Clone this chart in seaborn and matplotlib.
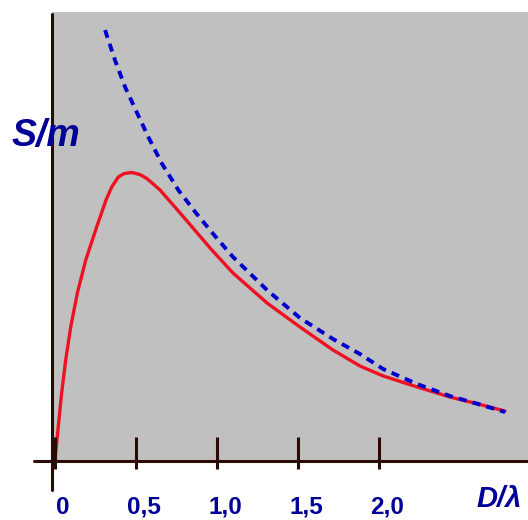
import numpy as np
import pandas as pd
import matplotlib
matplotlib.use("Agg")
import matplotlib.pyplot as plt
import seaborn as sns

# data (D/lambda, S/m in arbitrary units)
d_red = [0.0, 0.004, 0.020, 0.041, 0.066, 0.097, 0.138, 0.190, 0.257, 0.315, 0.350,
         0.391, 0.426, 0.473, 0.525, 0.566, 0.605, 0.648, 0.772, 0.963, 1.099, 1.309,
         1.512, 1.716, 1.883, 2.025, 2.235, 2.438, 2.611, 2.778]
s_red = [0.0, 0.043, 0.204, 0.414, 0.617, 0.821, 1.031, 1.235, 1.438, 1.605, 1.685,
         1.747, 1.768, 1.775, 1.762, 1.738, 1.705, 1.667, 1.525, 1.302, 1.154, 0.969,
         0.821, 0.679, 0.580, 0.519, 0.451, 0.389, 0.346, 0.302]

d_blue = [0.309, 0.370, 0.432, 0.504, 0.576, 0.659, 0.761, 0.864, 0.977, 1.099,
          1.309, 1.512, 1.716, 1.883, 2.025, 2.235, 2.438, 2.611, 2.778]
s_blue = [2.654, 2.469, 2.304, 2.148, 1.994, 1.831, 1.667, 1.533, 1.395, 1.253,
          1.049, 0.877, 0.747, 0.654, 0.562, 0.469, 0.395, 0.346, 0.296]

tick_pos = [0.0, 0.5, 1.0, 1.5, 2.0]
tick_labels = ["0", "0,5", "1,0", "1,5", "2,0"]

red = pd.DataFrame({"D": d_red, "S": s_red})
blue = pd.DataFrame({"D": d_blue, "S": s_blue})

sns.set_style("white", {"axes.facecolor": "#c0c0c0"})
plt.rcParams['font.family'] = ['Liberation Sans', 'DejaVu Sans']

axis_col = "#2a0c04"
txt_col = "#000099"

fig = plt.figure(figsize=(5.28, 5.20), dpi=100)
ax = fig.add_axes([52 / 528, 59 / 520, 476 / 528, 449 / 520])

sns.lineplot(data=blue, x="D", y="S", ax=ax, color="#0000cc", lw=2.8,
             linestyle=(0, (2.1, 1.6)), sort=False, zorder=3)
sns.lineplot(data=red, x="D", y="S", ax=ax, color="#ee1122", lw=2.4,
             sort=False, zorder=2, solid_joinstyle="round")

ax.set_xlim(-3 / 162, 473 / 162)
ax.set_ylim(-1 / 162, 448 / 162)
for sp in ax.spines.values():
    sp.set_visible(False)
ax.set_xticks([])
ax.set_yticks([])
ax.set_xlabel("")
ax.set_ylabel("")

# axis lines running past the grey box
ax.plot([0, 0], [-0.0646, 0.9955], transform=ax.transAxes, color=axis_col,
        lw=2.2, clip_on=False, zorder=4)
ax.plot([-0.0378, 1.0], [0.0, 0.0], transform=ax.transAxes, color=axis_col,
        lw=2.2, clip_on=False, zorder=4)

# ticks and labels
ax.vlines(tick_pos, -9 / 162, 23 / 162, color=axis_col, lw=2.2,
          clip_on=False, zorder=4)
for t, lab in zip(tick_pos, tick_labels):
    ax.annotate(lab, xy=(t, 0), xytext=(8, -47), textcoords="offset pixels",
                ha="center", va="center", fontsize=17.5, fontweight="bold",
                color=txt_col, annotation_clip=False)

fig.text(46 / 528, 1 - 136 / 520, "S/m", fontsize=27, fontweight="bold",
         fontstyle="italic", color=txt_col, ha="center", va="center")
fig.text(499 / 528, 1 - 499 / 520, "D/λ", fontsize=21, fontweight="bold",
         fontstyle="italic", color=txt_col, ha="center", va="center")

fig.savefig("out.png", dpi=100)
